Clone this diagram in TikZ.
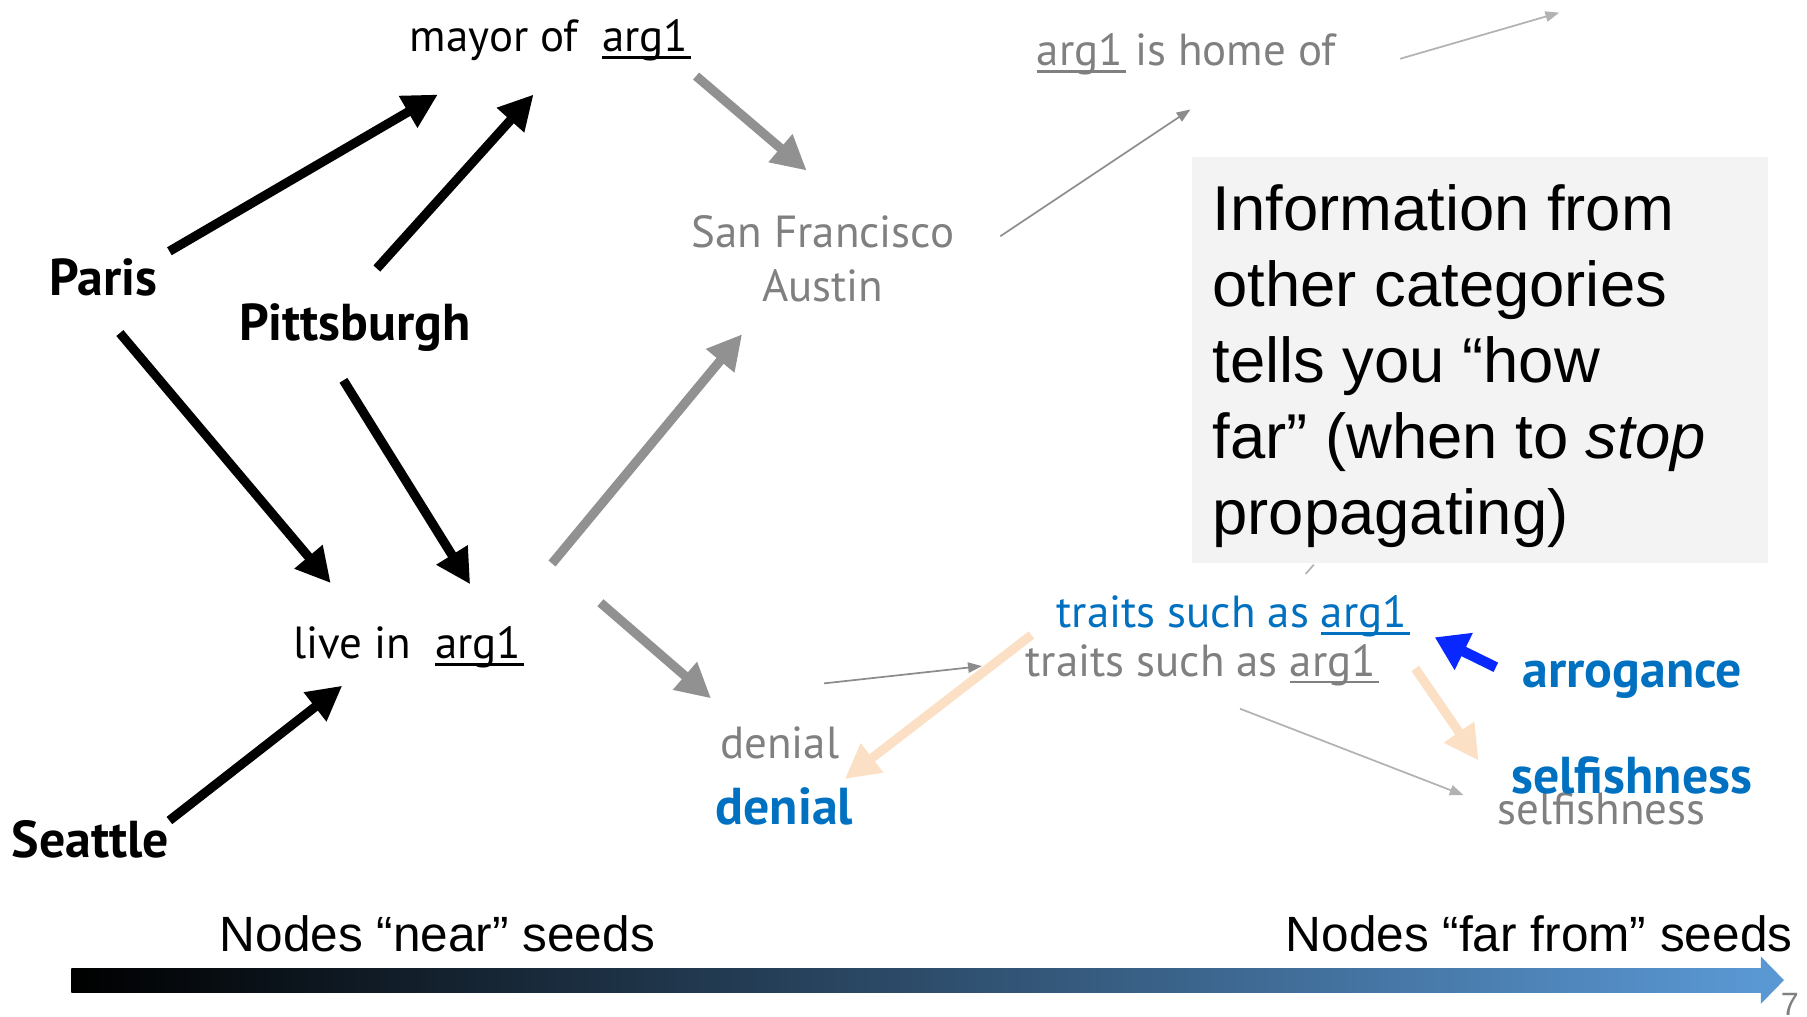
\documentclass[tikz,border=0pt]{standalone}
\usepackage{fontspec}
\setmainfont{Liberation Sans}
\newfontfamily\gill{PT Sans}
\usetikzlibrary{arrows.meta,calc}
\definecolor{txtgray}{RGB}{128,128,128}
\definecolor{arrgray}{RGB}{145,145,145}
\definecolor{thingray}{RGB}{140,140,140}
\definecolor{paleray}{RGB}{178,178,178}
\definecolor{myblue}{RGB}{0,112,192}
\definecolor{peach}{RGB}{251,224,198}
\definecolor{brightblue}{RGB}{8,40,255}
\definecolor{boxfill}{RGB}{243,243,243}
\definecolor{barmid}{RGB}{66,112,160}
\definecolor{barend}{RGB}{90,152,212}
\newcommand\argone{\setbox0\hbox{arg1}\rlap{\rule[-0.16em]{\dimexpr\wd0+0.06em\relax}{0.06em}}\box0}
\tikzset{
  lbl/.style={font=\gill\fontsize{39}{47}\selectfont, inner sep=0pt},
  bld/.style={font=\gill\bfseries\fontsize{45}{52}\selectfont, inner sep=0pt},
  bigarrow/.style={line width=8pt, -{Triangle[length=30pt,width=30pt]}},
  grayarrow/.style={bigarrow, draw=arrgray},
  peacharrow/.style={bigarrow, draw=peach},
  bluearrow/.style={line width=9pt, draw=brightblue, -{Triangle[length=28pt,width=34pt]}},
  thinarrow/.style={line width=1.5pt, draw=thingray, -{Triangle[length=12pt,width=9pt]}},
  palearrow/.style={thinarrow, draw=paleray},
  sidelabel/.style={font=\fontsize{43}{50}\selectfont, inner sep=0pt}
}
\begin{document}
\begin{tikzpicture}[x=1pt,y=-1pt]
\useasboundingbox (0,0) rectangle (1568,882);

% nodes
\node[lbl] (mayor) at (476.5,35) {mayor of\ \ \argone};
\node[bld] (paris) at (90,241) {Paris};
\node[bld] (pitt) at (308,284) {Pittsburgh};
\node[bld] (seattle) at (78.5,728) {Seattle};
\node[lbl] (live) at (353.5,562) {live in\ \ \argone};
\node[lbl, text=txtgray, align=center] (sf) at (714,224.5) {San Francisco\\Austin};
\node[lbl, text=txtgray] (home) at (1029.5,47) {\argone{} is home of};
\node[lbl, text=myblue] (traitsB) at (1069,535) {traits such as \argone};
\node[lbl, text=txtgray] (traitsG) at (1042,577) {traits such as \argone};
\node[bld, text=myblue] (arrog) at (1416.5,590) {arrogance};
\node[lbl, text=txtgray] (selfG) at (1389.5,702) {selfishness};
\node[bld, text=myblue] (selfB) at (1416,673) {selfishness};
\node[lbl, text=txtgray] (denialG) at (676.5,645) {denial};
\node[bld, text=myblue] (denialB) at (680.5,700) {denial};

% info box
\node[fill=boxfill, minimum width=500pt, minimum height=352pt, anchor=north west, inner sep=0pt] (box) at (1034,136) {};
\node[anchor=north west, inner sep=0pt, align=left, font=\fontsize{55}{66}\selectfont] (info) at (1052,160)
  {Information from\\other categories\\tells you “how\\far” (when to \textit{stop}\\propagating)};

% black arrows
\draw[bigarrow] ($(paris)+(57,-23)$) -- ($(mayor)+(-96.5,47)$);
\draw[bigarrow] ($(pitt)+(19,-51)$) -- ($(mayor)+(-13.5,47)$);
\draw[bigarrow] ($(paris)+(14,48)$) -- ($(live)+(-66.5,-56)$);
\draw[bigarrow] ($(pitt)+(-10,46)$) -- ($(live)+(54.5,-55)$);
\draw[bigarrow] ($(seattle)+(68.5,-16)$) -- ($(live)+(-56.5,33)$);

% gray arrows
\draw[grayarrow] ($(mayor)+(127.5,31)$) -- ($(sf)+(-14,-76.5)$);
\draw[grayarrow] ($(live)+(125.5,-73)$) -- ($(sf)+(-70,65.5)$);
\draw[grayarrow] ($(live)+(167.5,-39)$) -- ($(denialG)+(-59.5,-39)$);

% thin arrows
\coordinate (beyond) at (1353,11);
\draw[thinarrow] ($(sf)+(154,-19.5)$) -- ($(home)+(3.5,48)$);
\draw[palearrow] ($(home)+(185.5,4)$) -- (beyond);
\draw[thinarrow] ($(denialG)+(38.5,-52)$) -- ($(traitsG)+(-190,1)$);
\draw[palearrow] ($(traitsG)+(34,38)$) -- ($(selfG)+(-119.5,-12)$);
\draw[line width=1.5pt, paleray] ($(traitsB)+(64,-37)$) -- ($(traitsB)+(71,-45)$);

% peach and blue arrows
\draw[peacharrow] ($(traitsG)+(-147,-26)$) -- ($(denialB)+(52.5,-24)$);
\draw[peacharrow] ($(traitsB)+(159,45)$) -- ($(selfB)+(-133,-13)$);
\draw[bluearrow] ($(arrog)+(-118.5,-11)$) -- ($(traitsB)+(176,18)$);

% bottom gradient arrow
\shade[left color=black, middle color=barmid, right color=barend] (62,840) rectangle (1529,861);
\fill[barend] (1528,830) -- (1548,850.5) -- (1528,871) -- cycle;
\node[sidelabel] (near) at (379.5,810) {Nodes “near” seeds};
\node[sidelabel] (far) at (1335.5,810) {Nodes “far from” seeds};
\node[font=\fontsize{28}{28}\selectfont, text=txtgray, inner sep=0pt, anchor=north] (pg) at (1553,862) {7};
\end{tikzpicture}
\end{document}
